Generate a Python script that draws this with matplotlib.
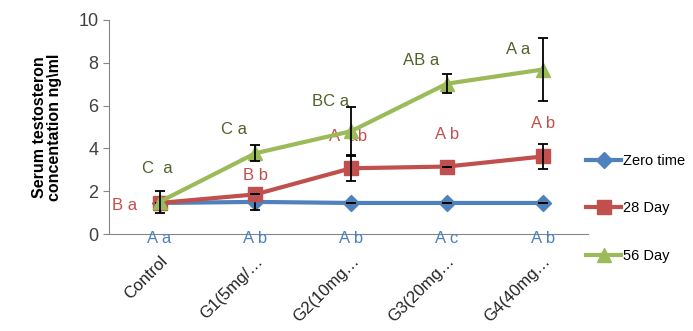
import numpy as np
import matplotlib.pyplot as plt

plt.rcParams['font.family'] = ['Liberation Sans', 'DejaVu Sans']

groups = ["Control", "G1(5mg/\u2026", "G2(10mg\u2026", "G3(20mg\u2026", "G4(40mg\u2026"]

zero_time = [1.45, 1.5, 1.45, 1.45, 1.45]
day28 = [1.45, 1.85, 3.07, 3.15, 3.62]
day56 = [1.5, 3.77, 4.8, 7.02, 7.68]

zero_err = [0.0, 0.4, 0.0, 0.0, 0.0]
day28_err = [0.0, 0.0, 0.6, 0.0, 0.6]
day56_err = [0.5, 0.37, 1.15, 0.45, 1.48]

zero_lbl = ["A a", "A b", "A b", "A c", "A b"]
day28_lbl = ["B a", "B b", "A  ab", "A b", "A b"]
day56_lbl = ["C  a", "C a", "BC a", "AB a", "A a"]

blue = "#4F81BD"
red = "#C0504D"
green = "#9BBB59"
dark_green = "#4F6228"

fig = plt.figure(figsize=(6.93, 3.31), dpi=100)
ax = fig.add_axes([0.157, 0.293, 0.691, 0.647])

x = np.arange(len(groups))

series = [(zero_time, zero_err, blue, "D", 8, "Zero time"),
          (day28, day28_err, red, "s", 10, "28 Day"),
          (day56, day56_err, green, "^", 10, "56 Day")]
for z, (vals, err, col, mk, ms, name) in enumerate(series):
    ax.plot(x, vals, color=col, lw=3, marker=mk, ms=ms, label=name,
            zorder=3 + z)
    ax.errorbar(x, vals, yerr=err, fmt="none", ecolor="black",
                elinewidth=1.3, capsize=3.5, capthick=1.3, zorder=3 + z)

# significance letters
for i in range(len(groups)):
    ax.text(x[i], -0.19, zero_lbl[i], color=blue, fontsize=12,
            ha="center", va="center")
for i, (dx, dy) in enumerate([(-0.37, -0.1), (0, 0.9), (-0.03, 1.5), (0, 1.52), (0, 1.52)]):
    ax.text(x[i] + dx, day28[i] + dy, day28_lbl[i], color=red, fontsize=12,
            ha="center", va="center")
for i, (dx, dy) in enumerate([(-0.02, 1.54), (-0.22, 1.09), (-0.21, 1.4), (-0.27, 1.06), (-0.26, 0.92)]):
    ax.text(x[i] + dx, day56[i] + dy, day56_lbl[i], color=dark_green,
            fontsize=12, ha="center", va="center")

ax.set_xlim(-0.53, 4.47)
ax.set_ylim(0, 10)
ax.set_yticks(range(0, 11, 2))
ax.set_xticks(x)
ax.set_xticklabels(groups, rotation=45, ha="right", va="top",
                   rotation_mode="anchor", fontsize=12, color="#222222")
ax.tick_params(axis="x", length=0, pad=14)
ax.tick_params(axis="y", labelsize=13, colors="#404040", length=4,
               color="#868686")
for s in ["top", "right"]:
    ax.spines[s].set_visible(False)
for s in ["left", "bottom"]:
    ax.spines[s].set_color("#868686")

ax.set_ylabel("Serum testosteron\nconcentation ng\\ml", fontsize=11.5,
              fontweight="bold", linespacing=1.0, labelpad=12)

ax.legend(loc="center left", bbox_to_anchor=(0.97, 0.12), frameon=False,
          fontsize=10.5, handlelength=2.4, handletextpad=0.1,
          labelspacing=2.3)

fig.savefig("out.png", dpi=100)
